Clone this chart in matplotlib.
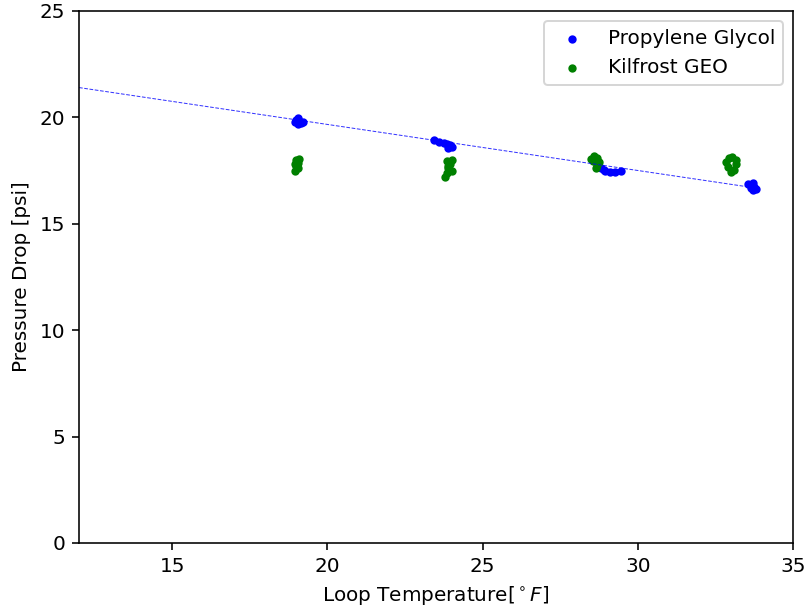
import matplotlib
matplotlib.use("Agg")
import matplotlib.pyplot as plt
import numpy as np

# Propylene Glycol measurements (loop temperature [F], pressure drop [psi])
pg_temp = [18.95, 19.0, 19.05, 19.1, 19.15, 19.2, 19.05,
           23.45, 23.6, 23.75, 23.85, 23.95, 24.0, 23.9,
           28.8, 28.95, 29.1, 29.25, 29.45, 28.9,
           33.55, 33.65, 33.7, 33.75, 33.8, 33.7]
pg_dp = [19.8, 19.9, 19.95, 19.85, 19.75, 19.8, 19.7,
         18.95, 18.85, 18.8, 18.75, 18.7, 18.6, 18.55,
         17.6, 17.5, 17.45, 17.45, 17.5, 17.55,
         16.85, 16.7, 16.6, 16.75, 16.65, 16.9]

# Kilfrost GEO measurements
kg_temp = [18.95, 19.0, 19.05, 19.0, 19.1, 18.95, 19.05,
           23.8, 23.85, 23.9, 23.95, 24.0, 23.85, 23.9, 24.0,
           28.5, 28.6, 28.7, 28.75, 28.65, 28.55, 28.7,
           32.85, 32.95, 33.05, 33.15, 32.9, 33.1, 33.0, 33.15]
kg_dp = [17.5, 17.7, 17.85, 18.0, 18.05, 17.8, 17.6,
         17.2, 17.4, 17.6, 17.8, 18.0, 17.95, 17.7, 17.5,
         18.05, 18.2, 18.1, 17.9, 17.6, 17.95, 17.75,
         17.9, 18.1, 18.15, 18.0, 17.65, 17.55, 17.45, 17.8]

# linear fit drawn through the glycol data
fit_slope = -0.2165
fit_intercept = 24.0
fit_x = [12.0, 33.7]

fig = plt.figure(figsize=(804 / 144, 613 / 144), dpi=144)
ax = fig.add_axes([79 / 804, 70 / 613, 714 / 804, 532 / 613])

fx = np.array(fit_x)
ax.plot(fx, fit_intercept + fit_slope * fx, "--", color="blue", lw=0.5, alpha=0.8)
ax.scatter(pg_temp, pg_dp, s=10, color="blue", label="Propylene Glycol")
ax.scatter(kg_temp, kg_dp, s=10, color="green", label="Kilfrost GEO")

ax.set_xlim(12, 35)
ax.set_ylim(0, 25)
ax.set_xlabel(r"Loop Temperature[$^\circ F$]")
ax.set_ylabel("Pressure Drop [psi]")
ax.legend(loc="upper right")

fig.savefig("out.png", dpi=144)
